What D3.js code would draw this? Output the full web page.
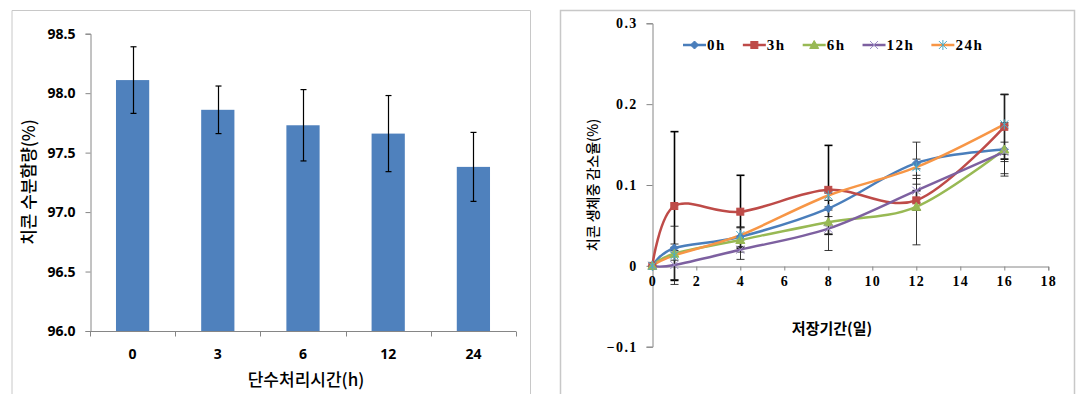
<!DOCTYPE html>
<html><head><meta charset="utf-8">
<script src="https://cdn.jsdelivr.net/npm/d3@7"></script>
<style>
html,body{margin:0;padding:0;background:#fff;}
svg{display:block;}
</style></head>
<body>
<svg id="c" width="1085" height="405"></svg>
<script>
// ---- Left chart data ----
const barCats = ["0","3","6","12","24"];
const barValues = [98.11, 97.86, 97.73, 97.66, 97.38];
const barErrors = [0.28, 0.20, 0.30, 0.32, 0.29];
const barTicks = [96.0, 96.5, 97.0, 97.5, 98.0, 98.5];
const barXTitle = "단수처리시간(h)";
const barYTitle = "치콘 수분함량(%)";

// ---- Right chart data ----
const days = [0, 1, 4, 8, 12, 16];
const seriesNames = ["0h", "3h", "6h", "12h", "24h"];
const s0h  = [0, 0.022, 0.036, 0.071, 0.127, 0.144];
const s3h  = [0, 0.074, 0.067, 0.094, 0.081, 0.172];
const s6h  = [0, 0.015, 0.032, 0.054, 0.073, 0.144];
const s12h = [0, 0.001, 0.020, 0.046, 0.093, 0.141];
const s24h = [0, 0.013, 0.038, 0.087, 0.122, 0.175];
const e0h  = [0, 0.005, 0.012, 0.010, 0.026, 0.033];
const e3h  = [0, 0.092, 0.045, 0.055, 0.012, 0.040];
const e6h  = [0, 0.008, 0.015, 0.015, 0.047, 0.030];
const e12h = [0, 0.018, 0.012, 0.027, 0.015, 0.012];
const e24h = [0, 0.036, 0.010, 0.006, 0.010, 0.037];
const lineXTicks = [0, 2, 4, 6, 8, 10, 12, 14, 16, 18];
const lineYTicks = [-0.1, 0, 0.1, 0.2, 0.3];
const lineXTitle = "저장기간(일)";
const lineYTitle = "치콘 생체중 감소율(%)";

const KR = "'Noto Sans CJK KR','Noto Sans',sans-serif";
const SANS = "'Noto Sans','Open Sans',sans-serif";
const SERIF = "'Liberation Serif','DejaVu Serif',serif";

const svg = d3.select("#c");
const axisGray = "#868686";

// frames
svg.append("path").attr("d","M12,394V10.5H530.5V394").attr("fill","none").attr("stroke","#c8c8c8").attr("stroke-width",1);
svg.append("path").attr("d","M560.5,394V10.5H1074.5V394").attr("fill","none").attr("stroke","#c8c8c8").attr("stroke-width",1.5);

// ================= LEFT BAR CHART =================
const xb = d3.scaleBand().domain(barCats).range([90, 516]).paddingInner(0.61).paddingOuter(0.305);
const xbOuter = d3.scaleBand().domain(barCats).range([90, 516]);
const yb = d3.scaleLinear().domain([96, 98.5]).range([331, 33.7]);
const gL = svg.append("g");

gL.selectAll("rect.bar").data(barValues).join("rect")
  .attr("x",(d,i)=>xb(barCats[i])).attr("width",xb.bandwidth())
  .attr("y",d=>yb(d)).attr("height",d=>yb(96)-yb(d))
  .attr("fill","#4F81BD");

// error bars
const eb = gL.append("g").attr("stroke","#000").attr("stroke-width",1.2);
barValues.forEach((v,i)=>{
  const cx = Math.round(xbOuter(barCats[i]) + xbOuter.bandwidth()/2)+0.5;
  eb.append("line").attr("x1",cx).attr("x2",cx).attr("y1",yb(v+barErrors[i])).attr("y2",yb(v-barErrors[i]));
  [v+barErrors[i], v-barErrors[i]].forEach(e=>{
    eb.append("line").attr("x1",cx-3).attr("x2",cx+3).attr("y1",yb(e)).attr("y2",yb(e));
  });
});

// y axis
const yAxisL = d3.axisLeft(yb).tickValues(barTicks).tickSize(5).tickPadding(10).tickFormat(d3.format(".1f"));
const gYL = gL.append("g").attr("transform","translate(90.5,0)").call(yAxisL);
gYL.select(".domain").attr("stroke",axisGray);
gYL.selectAll(".tick line").attr("stroke",axisGray);
gYL.selectAll(".tick text").style("font-family",SANS).style("font-weight","bold").style("font-size","14px").attr("fill","#000");

// x axis
const gXL = gL.append("g").attr("transform","translate(0,331.5)");
gXL.append("line").attr("x1",90).attr("x2",516).attr("stroke",axisGray);
const bounds = barCats.map(c=>xbOuter(c)).concat([516]);
gXL.selectAll("line.t").data(bounds).join("line").attr("class","t")
  .attr("x1",d=>Math.round(d)+0.5).attr("x2",d=>Math.round(d)+0.5).attr("y1",0).attr("y2",5).attr("stroke",axisGray);
gXL.selectAll("text").data(barCats).join("text")
  .style("font-family",SANS).style("font-weight","bold").style("font-size","14px")
  .attr("x",c=>xbOuter(c)+xbOuter.bandwidth()/2).attr("y",27).attr("text-anchor","middle").text(c=>c);

gL.append("text").style("font-family",KR).style("font-size","17px").style("font-weight",500)
  .attr("x",306).attr("y",386).attr("text-anchor","middle").text(barXTitle);
gL.append("text").style("font-family",KR).style("font-size","17px").style("font-weight",500)
  .attr("transform","translate(35,182) rotate(-90)").attr("text-anchor","middle").text(barYTitle);

// ================= RIGHT LINE CHART =================
const xl = d3.scaleLinear().domain([0,18]).range([652.3, 1048.3]);
const yl = d3.scaleLinear().domain([-0.1,0.3]).range([346.7, 23.3]);
const gR = svg.append("g");

// y axis
const gYR = gR.append("g").attr("transform","translate(652.5,0)")
  .call(d3.axisLeft(yl).tickValues(lineYTicks).tickSize(6).tickPadding(9).tickFormat(d=>d===0?"0":d3.format(".1f")(d)));
gYR.select(".domain").attr("stroke",axisGray);
gYR.selectAll(".tick line").attr("stroke",axisGray);
gYR.selectAll(".tick text").style("font-family",SERIF).style("font-weight","bold").style("font-size","14px").style("letter-spacing","1.3px").attr("fill","#000");

// x axis at y=0
const gXR = gR.append("g").attr("transform",`translate(0,${Math.round(yl(0))+0.5})`)
  .call(d3.axisBottom(xl).tickValues(lineXTicks).tickSize(4).tickPadding(6).tickFormat(d3.format("d")));
gXR.select(".domain").attr("stroke",axisGray);
gXR.selectAll(".tick line").attr("stroke",axisGray);
gXR.selectAll(".tick text").style("font-family",SERIF).style("font-weight","bold").style("font-size","14px").style("letter-spacing","1.3px").attr("fill","#000");

gR.append("text").style("font-family",KR).style("font-size","15px").style("font-weight",700)
  .attr("x",832).attr("y",334).attr("text-anchor","middle").text(lineXTitle);
gR.append("text").style("font-family",KR).style("font-size","14px").style("font-weight",500)
  .attr("transform","translate(598,185) rotate(-90)").attr("text-anchor","middle").text(lineYTitle);

const seriesVals = [s0h, s3h, s6h, s12h, s24h];
const seriesErr = [e0h, e3h, e6h, e12h, e24h];
const lineColors = ["#4A7EBB","#BE4B48","#98B954","#7D60A0","#F79646"];
const markerFill = ["#4A7EBB","#BE4B48","#98B954","#7D60A0","#4BACC6"];

// error bars
const gE = gR.append("g");
seriesVals.forEach((vals,si)=>{
  vals.forEach((v,i)=>{
    const e = seriesErr[si][i];
    if(!e) return;
    const cx = Math.round(xl(days[i]))+0.5;
    const sw = si===1?1.6:0.9;
    const col = si===1?"#000":"#222";
    gE.append("line").attr("x1",cx).attr("x2",cx).attr("y1",yl(v+e)).attr("y2",yl(v-e)).attr("stroke",col).attr("stroke-width",sw);
    [v+e,v-e].forEach(t=>gE.append("line").attr("x1",cx-4).attr("x2",cx+4).attr("y1",yl(t)).attr("y2",yl(t)).attr("stroke",col).attr("stroke-width",sw));
  });
});

const line = d3.line().x((d,i)=>xl(days[i])).y(d=>yl(d)).curve(d3.curveCardinal.tension(0));
function marker(g, si, x, y){
  const c = markerFill[si];
  if(si===0){
    g.append("path").attr("d",`M${x},${y-4}L${x+4},${y}L${x},${y+4}L${x-4},${y}Z`).attr("fill",c).attr("stroke",c);
  } else if(si===1){
    g.append("rect").attr("x",x-3.5).attr("y",y-3.5).attr("width",7).attr("height",7).attr("fill",c).attr("stroke",c);
  } else if(si===2){
    g.append("path").attr("d",`M${x},${y-4.5}L${x+4.5},${y+3.5}L${x-4.5},${y+3.5}Z`).attr("fill",c).attr("stroke",c);
  } else if(si===3){
    g.append("path").attr("d",`M${x-4},${y-4}L${x+4},${y+4}M${x-4},${y+4}L${x+4},${y-4}`).attr("stroke","#9C8DC6").attr("stroke-width",1);
  } else {
    g.append("path").attr("d",`M${x-4},${y-4}L${x+4},${y+4}M${x-4},${y+4}L${x+4},${y-4}M${x},${y-5}V${y+5}`).attr("stroke",c).attr("stroke-width",1);
  }
}
const gS = gR.append("g");
seriesVals.forEach((vals,si)=>{
  gS.append("path").datum(vals).attr("d",line).attr("fill","none").attr("stroke",lineColors[si]).attr("stroke-width",2.5);
});
seriesVals.forEach((vals,si)=>{
  const gm = gS.append("g");
  vals.forEach((v,i)=>marker(gm, si, xl(days[i]), yl(v)));
});

// legend
const gLeg = gR.append("g");
let lx = 683;
const ly = 45;
seriesNames.forEach((n,si)=>{
  gLeg.append("line").attr("x1",lx).attr("x2",lx+23).attr("y1",ly).attr("y2",ly).attr("stroke",lineColors[si]).attr("stroke-width",2.5);
  marker(gLeg, si, lx+11.5, ly);
  const t = gLeg.append("text").style("font-family",SERIF).style("font-weight","bold").style("font-size","15px").style("letter-spacing","1.5px")
    .attr("x",lx+24).attr("y",ly+5).text(n);
  lx += 24 + t.node().getComputedTextLength() + 17;
});
</script>
</body></html>
